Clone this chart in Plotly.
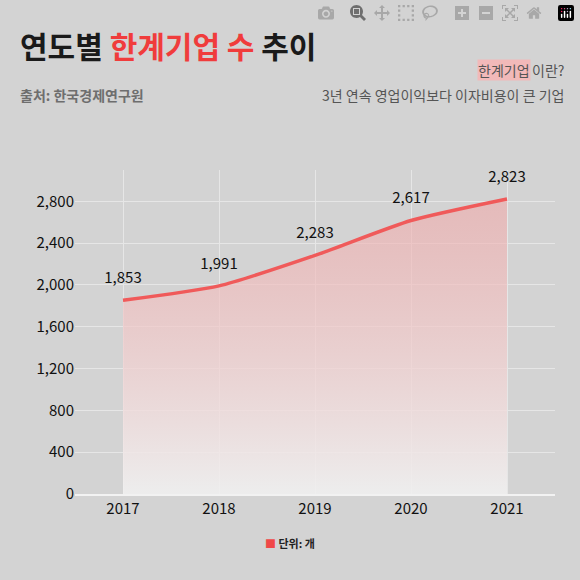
import plotly.graph_objects as go

years = ["2017", "2018", "2019", "2020", "2021"]
counts = [1853, 1991, 2283, 2617, 2823]
ytick_vals = [0, 400, 800, 1200, 1600, 2000, 2400, 2800]

fig = go.Figure()
fig.add_trace(go.Scatter(
    x=list(range(len(years))), y=counts, mode="lines",
    line=dict(color="#f05a5a", width=3.5, shape="spline", smoothing=0.6),
    fill="tozeroy",
    fillgradient=dict(type="vertical",
                      colorscale=[[0, "rgba(240,240,240,0.9)"], [1, "rgba(240,170,170,0.6)"]]),
    hoverinfo="skip", showlegend=False,
))
fig.add_trace(go.Scatter(
    x=list(range(len(years))), y=[v + 130 for v in counts], mode="text",
    text=[f"{v:,}" for v in counts], textposition="top center",
    textfont=dict(size=15, color="#111", family="Noto Sans CJK KR"),
    hoverinfo="skip", showlegend=False, cliponaxis=False,
))

fig.update_layout(
    width=580, height=580,
    paper_bgcolor="#d3d3d3", plot_bgcolor="#d3d3d3",
    margin=dict(l=75, r=25, t=170, b=86),
    font=dict(family="Noto Sans CJK KR", color="#111"),
    xaxis=dict(tickmode="array", tickvals=list(range(len(years))), ticktext=years,
               range=[-0.5, 4.5], showgrid=True, gridcolor="#e6e6e6", gridwidth=1,
               showline=True, linecolor="#f2f2f2", linewidth=2, ticks="",
               tickfont=dict(size=15), zeroline=False),
    yaxis=dict(tickmode="array", tickvals=ytick_vals, ticktext=[f"{v:,}" for v in ytick_vals],
               range=[0, 3100], showgrid=True, gridcolor="#e6e6e6", gridwidth=1,
               tickfont=dict(size=15), zeroline=False, ticks=""),
    annotations=[
        dict(x=18, y=45, xref="paper", yref="paper", showarrow=False, xanchor="left", yanchor="middle",
             text="<b>연도별 <span style='color:#f03c3c'>한계기업 수</span> 추이</b>",
             font=dict(size=30, color="#1a1a1a")),
        dict(x=18, y=95, xref="paper", yref="paper", showarrow=False, xanchor="left", yanchor="middle",
             text="<b>출처: 한국경제연구원</b>", font=dict(size=14, color="#6e6e6e")),
        dict(x=566, y=70, xref="paper", yref="paper", showarrow=False, xanchor="right", yanchor="middle",
             text="<span style='color:#555'>이란?</span>", font=dict(size=14)),
        dict(x=531, y=70, xref="paper", yref="paper", showarrow=False, xanchor="right", yanchor="middle",
             text="한계기업", bgcolor="#f2b9b9", borderpad=0, font=dict(size=14, color="#555")),
        dict(x=566, y=95, xref="paper", yref="paper", showarrow=False, xanchor="right", yanchor="middle",
             text="3년 연속 영업이익보다 이자비용이 큰 기업", font=dict(size=14, color="#555")),
        dict(x=290, y=543, xref="paper", yref="paper", showarrow=False, xanchor="center", yanchor="middle",
             text="<span style='color:#f04848'>■</span> <b>단위: 개</b>", font=dict(size=11, color="#222")),
    ],
)
pw, ph = 580 - 75 - 25, 580 - 170 - 86
for a in fig.layout.annotations:
    a.x = (a.x - 75) / pw
    a.y = (580 - 86 - a.y) / ph
fig.write_html("out.html", post_script="document.body.style.margin='0';")
